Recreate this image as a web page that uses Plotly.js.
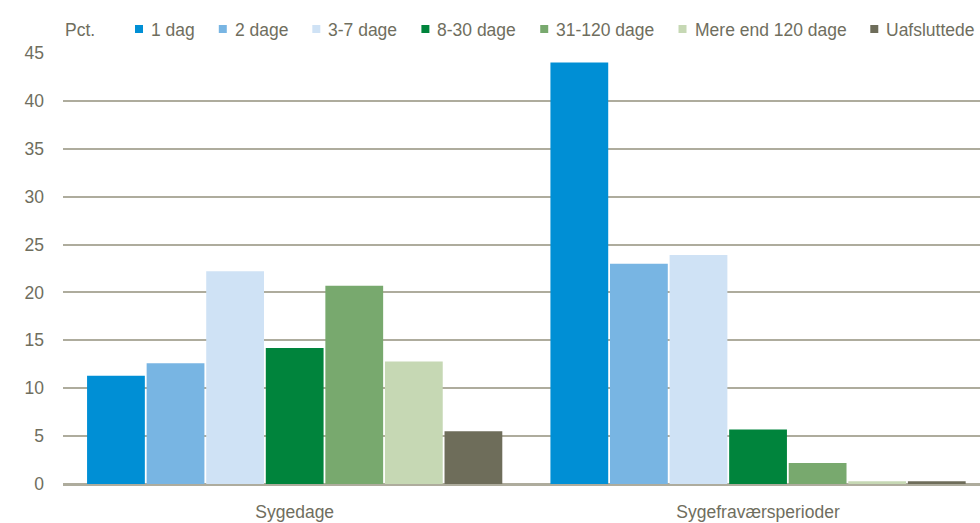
<!DOCTYPE html>
<html>
<head>
<meta charset="utf-8">
<script src="https://cdn.plot.ly/plotly-3.0.1.min.js"></script>
<style>html,body{margin:0;padding:0;background:#fff;overflow:hidden}#chart{width:980px;height:523px}</style>
</head>
<body>
<div id="chart"></div>
<script>
var categories = ["Sygedage", "Sygefraværsperioder"];
var seriesNames = ["1 dag", "2 dage", "3-7 dage", "8-30 dage", "31-120 dage", "Mere end 120 dage", "Uafsluttede"];
var v1dag = [11.3, 44.0];
var v2dage = [12.6, 23.0];
var v3to7 = [22.2, 23.9];
var v8to30 = [14.2, 5.7];
var v31to120 = [20.7, 2.2];
var vOver120 = [12.8, 0.3];
var vUafsl = [5.5, 0.3];
var yTicks = [0, 5, 10, 15, 20, 25, 30, 35, 40, 45];
var unitLabel = "Pct.";

var values = [v1dag, v2dage, v3to7, v8to30, v31to120, vOver120, vUafsl];
var colors = ["#008fd5", "#78b5e3", "#cfe2f5", "#00843c", "#78a96e", "#c6d8b4", "#6e6d5a"];
var FONT = "'Liberation Sans', Arial, sans-serif";
var TXT = "#6f6e5e";
var GRID = "#aeac9d";
var FS = 17.5;

var W = 980, H = 523;
var M = {l: 63, r: 0, t: 53, b: 39};
var plotW = W - M.l - M.r, plotH = H - M.t - M.b;
function px2paperX(px) { return (px - M.l) / plotW; }
function px2paperY(py) { return (H - M.b - py) / plotH; }

var traces = values.map(function (v, i) {
  return {
    type: "bar", x: categories, y: v, name: seriesNames[i],
    marker: {color: colors[i], line: {width: 0}},
    hoverinfo: "y+name", showlegend: false
  };
});

// manual legend, laid out by measuring text
var ctx = document.createElement("canvas").getContext("2d");
ctx.font = FS + "px 'Liberation Sans'";
var shapes = [], annotations = [];
var legendY = 29, sq = 8, markGap = 11, itemGap = 29;
var cx = 139;
seriesNames.forEach(function (name, i) {
  shapes.push({type: "rect", xref: "paper", yref: "paper",
    x0: px2paperX(cx - sq / 2), x1: px2paperX(cx + sq / 2),
    y0: px2paperY(legendY + sq / 2), y1: px2paperY(legendY - sq / 2),
    fillcolor: colors[i], line: {width: 0}});
  var tx = cx + markGap;
  annotations.push({text: name, xref: "paper", yref: "paper", x: px2paperX(tx - 1), y: px2paperY(legendY + 1),
    xanchor: "left", yanchor: "middle", showarrow: false, font: {family: FONT, size: FS, color: TXT}});
  var w = ctx.measureText(name).width;
  cx = tx + w + itemGap;
});
annotations.push({text: unitLabel, xref: "paper", yref: "paper", x: px2paperX(63), y: px2paperY(legendY + 1),
  xanchor: "left", yanchor: "middle", showarrow: false, font: {family: FONT, size: FS, color: TXT}});

var layout = {
  width: W, height: H,
  margin: M,
  paper_bgcolor: "#fff", plot_bgcolor: "#fff",
  barmode: "group", bargap: 0.1, bargroupgap: 0.03,
  font: {family: FONT, size: FS, color: TXT},
  showlegend: false,
  xaxis: {type: "category", range: [-0.5, 1.479], showgrid: false, zeroline: false,
          showline: false, ticks: "", ticklabelstandoff: 15,
          tickfont: {family: FONT, size: FS, color: TXT}},
  yaxis: {range: [0, 45], tickvals: yTicks, showgrid: true, gridcolor: GRID, gridwidth: 2,
          zeroline: true, zerolinecolor: GRID, zerolinewidth: 3, showline: false,
          ticks: "", ticklabelstandoff: 18,
          tickfont: {family: FONT, size: FS, color: TXT}},
  shapes: shapes,
  annotations: annotations
};

Plotly.newPlot("chart", traces, layout, {displayModeBar: false, staticPlot: true});
</script>
</body>
</html>
